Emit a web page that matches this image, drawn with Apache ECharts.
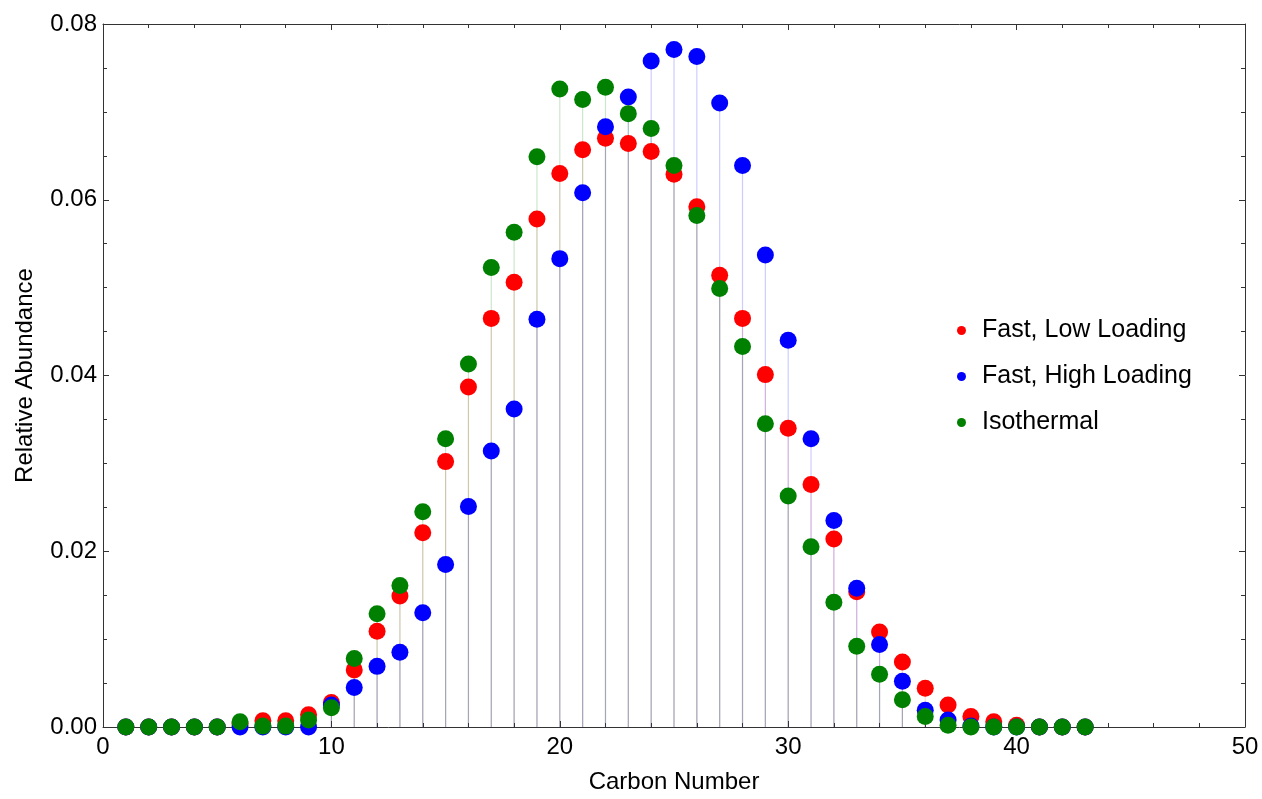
<!DOCTYPE html>
<html>
<head>
<meta charset="utf-8">
<script src="https://cdn.jsdelivr.net/npm/echarts@6/dist/echarts.min.js"></script>
<style>html,body{margin:0;padding:0;background:#fff;}#c{width:1262px;height:799px;}</style>
</head>
<body>
<div id="c"></div>
<script>
var carbonNumbers = [1,2,3,4,5,6,7,8,9,10,11,12,13,14,15,16,17,18,19,20,21,22,23,24,25,26,27,28,29,30,31,32,33,34,35,36,37,38,39,40,41,42,43];
var fastLowLoading = [0,0,0,0,0,0.0004,0.0007,0.0007,0.0014,0.0028,0.0065,0.0109,0.0149,0.0221,0.0302,0.0387,0.0465,0.0506,0.0578,0.0630,0.0657,0.0670,0.0664,0.0655,0.0629,0.0592,0.0514,0.0465,0.0401,0.0340,0.0276,0.0214,0.0154,0.0108,0.0074,0.0044,0.0025,0.0012,0.0006,0.0002,0,0,0];
var fastHighLoading = [0,0,0,0,0,0,0,0,0,0.0025,0.0045,0.0069,0.0085,0.0130,0.0185,0.0251,0.0314,0.0362,0.0464,0.0533,0.0608,0.0683,0.0717,0.0758,0.0771,0.0763,0.0710,0.0639,0.0537,0.0440,0.0328,0.0235,0.0158,0.0094,0.0052,0.0019,0.0008,0.0001,0,0,0,0,0];
var isothermal = [0,0,0,0,0,0.0006,0.0001,0.0001,0.0008,0.0022,0.0078,0.0129,0.0161,0.0245,0.0328,0.0413,0.0523,0.0563,0.0649,0.0726,0.0714,0.0728,0.0698,0.0681,0.0639,0.0582,0.0499,0.0433,0.0345,0.0263,0.0205,0.0142,0.0092,0.0060,0.0031,0.0012,0.0002,0,0,0,0,0,0];
var seriesNames = ['Fast, Low Loading','Fast, High Loading','Isothermal'];
var seriesColors = ['#ff0000','#0000ff','#008000'];
var stemColors = ['rgba(255,0,0,0.14)','rgba(0,0,255,0.2)','rgba(0,128,0,0.2)'];
var xTicks = [0,10,20,30,40,50];
var yTicks = [0,0.02,0.04,0.06,0.08];

function pairs(vals){ return carbonNumbers.map(function(x,i){ return [x, vals[i]]; }); }
var allVals = [fastLowLoading, fastHighLoading, isothermal];
var FONT = '"Liberation Sans", Arial, sans-serif';
var axisColor = '#333';

var chart = echarts.init(document.getElementById('c'), null, {renderer:'canvas'});
var series = [];
allVals.forEach(function(vals, k){
  series.push({
    type:'custom', xAxisIndex:0, yAxisIndex:0, silent:true, z:1,
    data: pairs(vals),
    encode:{x:0,y:1},
    renderItem: function(params, api){
      var p1 = api.coord([api.value(0), 0]);
      var p2 = api.coord([api.value(0), api.value(1)]);
      return {type:'line', shape:{x1:p1[0],y1:p1[1],x2:p2[0],y2:p2[1]}, style:{stroke:stemColors[k], lineWidth:1.2}};
    }
  });
});
allVals.forEach(function(vals, k){
  series.push({
    type:'scatter', name:seriesNames[k], xAxisIndex:0, yAxisIndex:0, z:3+k,
    data: pairs(vals), symbol:'circle', symbolSize:17,
    itemStyle:{color:seriesColors[k], opacity:1}
  });
});

function mkX(pos, showLabel){
  return {
    type:'value', position:pos, min:xTicks[0], max:xTicks[xTicks.length-1], interval:10,
    axisLine:{show:true, onZero:false, lineStyle:{color:axisColor, width:1}},
    axisTick:{show:true, inside:true, length:6, lineStyle:{color:axisColor}},
    minorTick:{show:true, splitNumber:5, length:4, lineStyle:{color:axisColor}},
    splitLine:{show:false},
    axisLabel:{show:showLabel, fontSize:24, color:'#000', fontFamily:FONT, margin:8},
    name: showLabel ? 'Carbon Number' : '', nameLocation:'middle', nameGap:43,
    nameTextStyle:{fontSize:24, color:'#000', fontFamily:FONT}
  };
}
function mkY(pos, showLabel){
  return {
    type:'value', position:pos, min:yTicks[0], max:yTicks[yTicks.length-1], interval:0.02,
    axisLine:{show:true, onZero:false, lineStyle:{color:axisColor, width:1}},
    axisTick:{show:true, inside:true, length:6, lineStyle:{color:axisColor}},
    minorTick:{show:true, splitNumber:4, length:4, lineStyle:{color:axisColor}},
    splitLine:{show:false},
    axisLabel:{show:showLabel, fontSize:24, color:'#000', fontFamily:FONT, margin:6,
      formatter:function(v){ return v.toFixed(2); }},
    name: showLabel ? 'Relative Abundance' : '', nameLocation:'middle', nameGap:66,
    nameTextStyle:{fontSize:24, color:'#000', fontFamily:FONT}
  };
}

chart.setOption({
  animation:false,
  backgroundColor:'#fff',
  grid:{left:103, right:17, top:24, bottom:70, containLabel:false},
  xAxis:[mkX('bottom', true), mkX('top', false)],
  yAxis:[mkY('left', true), mkY('right', false)],
  legend:{
    data:seriesNames, orient:'vertical', left:952, top:313,
    icon:'circle', itemWidth:9, itemHeight:9, itemGap:21,
    textStyle:{fontSize:25, color:'#000', fontFamily:FONT, padding:[0,0,0,11], lineHeight:25}
  },
  series:series
});
</script>
</body>
</html>
